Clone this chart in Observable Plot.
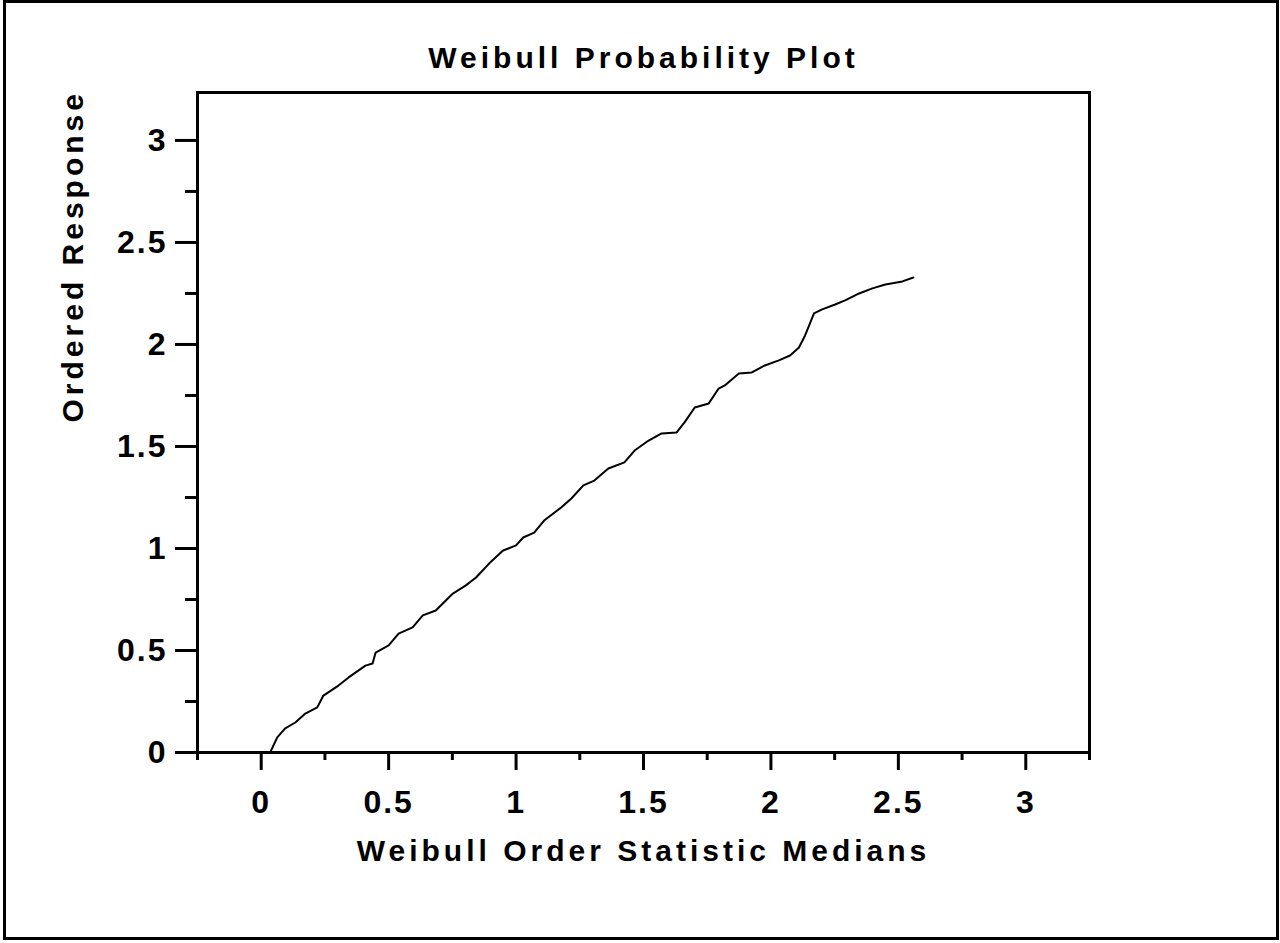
<!DOCTYPE html>
<html>
<head>
<meta charset="utf-8">
<script src="https://cdn.jsdelivr.net/npm/d3@7"></script>
<script src="https://cdn.jsdelivr.net/npm/@observablehq/plot@0.6"></script>
<style>
  html, body { margin: 0; padding: 0; background: #fff; }
  #wrap { position: relative; width: 1280px; height: 943px; }
  #border { position: absolute; left: 3px; top: 0px; width: 1276px; height: 940px; box-sizing: border-box; border: 3px solid #000; pointer-events: none; }
  svg text { font-family: "Liberation Sans", Arial, sans-serif; font-weight: bold; font-size: 30px; letter-spacing: 4px; fill: #000; }
  svg g[aria-label$="tick label"] text { font-size: 32px; letter-spacing: 2px; }
</style>
</head>
<body>
<div id="wrap"><div id="border"></div></div>
<script>
const titleText = ["Weibull Probability Plot"];
const xLabel = ["Weibull Order Statistic Medians"];
const yLabel = ["Ordered Response"];

const xMajor = [0, 0.5, 1, 1.5, 2, 2.5, 3];
const xMinor = [-0.25, 0.25, 0.75, 1.25, 1.75, 2.25, 2.75, 3.25];
const yMajor = [0, 0.5, 1, 1.5, 2, 2.5, 3];
const yMinor = [0.25, 0.75, 1.25, 1.75, 2.25, 2.75];

// Weibull order statistic medians (x) and ordered response (y)
const medians = [0.035, 0.063, 0.094, 0.134, 0.173, 0.220, 0.244, 0.303, 0.343, 0.409, 0.437, 0.449, 0.500, 0.539, 0.594, 0.634, 0.685, 0.752, 0.803, 0.843, 0.894, 0.949, 1.000, 1.028, 1.071, 1.110, 1.177, 1.217, 1.264, 1.307, 1.362, 1.425, 1.465, 1.520, 1.571, 1.630, 1.661, 1.701, 1.756, 1.795, 1.819, 1.874, 1.925, 1.976, 2.031, 2.075, 2.110, 2.134, 2.150, 2.169, 2.201, 2.252, 2.291, 2.346, 2.398, 2.449, 2.516, 2.559];
const response = [0.000, 0.074, 0.118, 0.147, 0.191, 0.221, 0.279, 0.328, 0.368, 0.426, 0.436, 0.490, 0.525, 0.583, 0.613, 0.672, 0.696, 0.779, 0.819, 0.858, 0.926, 0.990, 1.015, 1.054, 1.078, 1.137, 1.201, 1.245, 1.309, 1.333, 1.392, 1.422, 1.480, 1.529, 1.564, 1.569, 1.618, 1.691, 1.711, 1.784, 1.799, 1.858, 1.863, 1.897, 1.922, 1.946, 1.985, 2.044, 2.093, 2.152, 2.172, 2.196, 2.216, 2.250, 2.275, 2.294, 2.309, 2.328];

const pts = medians.map((x, i) => ({x, y: response[i]}));

const chart = Plot.plot({
  width: 1280,
  height: 943,
  marginLeft: 197,
  marginRight: 191,
  marginTop: 92,
  marginBottom: 191,
  style: {background: "transparent", overflow: "visible"},
  x: {domain: [-0.25, 3.25]},
  y: {domain: [0, 3.235]},
  marks: [
    Plot.axisX(xMajor, {tickSize: 18, tickPadding: 20, strokeWidth: 3, label: null, tickFormat: d => String(d)}),
    Plot.axisX(xMinor, {tickSize: 8, strokeWidth: 3, text: null, label: null}),
    Plot.axisY(yMajor, {tickSize: 22, tickPadding: 8, strokeWidth: 3, label: null, tickFormat: d => String(d)}),
    Plot.axisY(yMinor, {tickSize: 12, strokeWidth: 3, text: null, label: null}),
    Plot.frame({stroke: "#000", strokeWidth: 3}),
    Plot.line(pts, {x: "x", y: "y", stroke: "#000", strokeWidth: 2}),
    Plot.text(titleText, {text: d => d, frameAnchor: "top", dy: -34.6, lineAnchor: "middle"}),
    Plot.text(xLabel, {text: d => d, frameAnchor: "bottom", dy: 98.4, lineAnchor: "middle"}),
    Plot.text(yLabel, {text: d => d, frameAnchor: "left", dx: -124, rotate: -90, lineAnchor: "middle"})
  ]
});
document.getElementById("wrap").prepend(chart);
</script>
</body>
</html>
